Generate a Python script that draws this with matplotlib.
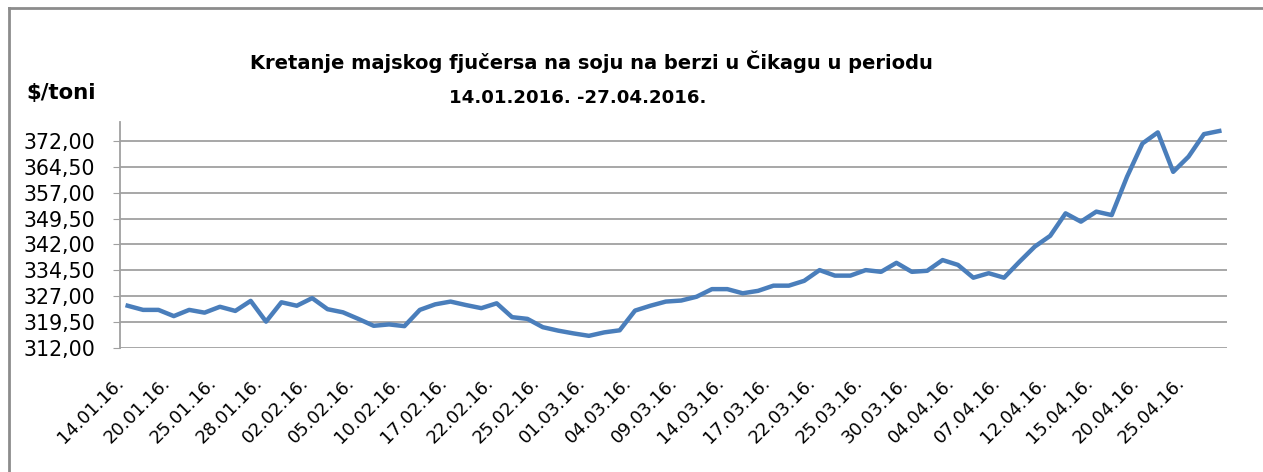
import matplotlib
matplotlib.use("Agg")
import matplotlib.pyplot as plt
from matplotlib.lines import Line2D
from matplotlib.transforms import ScaledTranslation

# trading days, 14.01.2016 - 27.04.2016
dates = [
    "14.01.16.", "15.01.16.", "19.01.16.", "20.01.16.", "21.01.16.", "22.01.16.",
    "25.01.16.", "26.01.16.", "27.01.16.", "28.01.16.", "29.01.16.", "01.02.16.",
    "02.02.16.", "03.02.16.", "04.02.16.", "05.02.16.", "08.02.16.", "09.02.16.",
    "10.02.16.", "11.02.16.", "12.02.16.", "17.02.16.", "18.02.16.", "19.02.16.",
    "22.02.16.", "23.02.16.", "24.02.16.", "25.02.16.", "26.02.16.", "29.02.16.",
    "01.03.16.", "02.03.16.", "03.03.16.", "04.03.16.", "07.03.16.", "08.03.16.",
    "09.03.16.", "10.03.16.", "11.03.16.", "14.03.16.", "15.03.16.", "16.03.16.",
    "17.03.16.", "18.03.16.", "21.03.16.", "22.03.16.", "23.03.16.", "24.03.16.",
    "25.03.16.", "28.03.16.", "29.03.16.", "30.03.16.", "31.03.16.", "01.04.16.",
    "04.04.16.", "05.04.16.", "06.04.16.", "07.04.16.", "08.04.16.", "11.04.16.",
    "12.04.16.", "13.04.16.", "14.04.16.", "15.04.16.", "18.04.16.", "19.04.16.",
    "20.04.16.", "21.04.16.", "22.04.16.", "25.04.16.", "26.04.16.", "27.04.16.",
]

# price $/ton
prices = [
    324.3, 323.1, 323.1, 321.3, 323.1, 322.3, 324.0, 322.8, 325.7, 319.7,
    325.3, 324.3, 326.5, 323.3, 322.4, 320.5, 318.5, 318.9, 318.4, 323.1,
    324.7, 325.5, 324.5, 323.6, 325.0, 321.0, 320.5, 318.1, 317.1, 316.3,
    315.6, 316.6, 317.2, 322.9, 324.3, 325.5, 325.8, 326.9, 329.1, 329.1,
    327.9, 328.6, 330.1, 330.1, 331.5, 334.6, 333.0, 333.0, 334.6, 334.1,
    336.7, 334.1, 334.4, 337.5, 336.1, 332.4, 333.7, 332.4, 337.0, 341.4,
    344.5, 351.0, 348.6, 351.5, 350.5, 361.6, 371.2, 374.4, 363.0, 367.4,
    373.9, 374.8,
]

y_ticks = [312.0, 319.5, 327.0, 334.5, 342.0, 349.5, 357.0, 364.5, 372.0]

plt.rcParams['font.family'] = ['DejaVu Sans']

fig = plt.figure(figsize=(12.63, 4.72), dpi=100)
ax = fig.add_axes([0.0950, 0.2621, 0.8765, 0.4794])

x = list(range(len(prices)))
ax.plot(x, prices, color='#4a7ebb', lw=3.2, solid_joinstyle='round', zorder=3)

ax.set_xlim(-0.5, len(prices) - 0.5)
ax.set_ylim(312, 377.4)
ax.set_yticks(y_ticks)
ax.set_yticklabels([f"{v:.2f}".replace('.', ',') for v in y_ticks], fontsize=14.8)
ax.set_xticks(x[::3])
ax.set_xticklabels(dates[::3], rotation=45, ha='right', fontsize=13)
shift = ScaledTranslation(4 / 100, 0, fig.dpi_scale_trans)
for lbl in ax.get_xticklabels():
    lbl.set_transform(lbl.get_transform() + shift)

ax.grid(axis='y', color='#a0a0a0', lw=1.3)
ax.set_axisbelow(True)
for s in ['top', 'right', 'bottom']:
    ax.spines[s].set_visible(False)
ax.spines['left'].set_color('#a0a0a0')
ax.spines['left'].set_linewidth(1.3)
ax.tick_params(axis='y', length=5, color='#a0a0a0', pad=13)
ax.tick_params(axis='x', length=0, pad=18)

# titles
fig.text(0.468, 0.8686, "Kretanje majskog fjučersa na soju na berzi u Čikagu u periodu",
         ha='center', va='center', fontsize=14, fontweight='bold')
fig.text(0.4577, 0.7925, "14.01.2016. -27.04.2016.",
         ha='center', va='center', fontsize=13.1, fontweight='bold')
fig.text(0.0206, 0.803, "$/toni", ha='left', va='center', fontsize=15.3, fontweight='bold')

# frame around the chart
fig.add_artist(Line2D([9 / 1263, 1.0], [1 - 8 / 472, 1 - 8 / 472], color='#8c8c8c', lw=2))
fig.add_artist(Line2D([9 / 1263, 9 / 1263], [0.0, 1 - 8 / 472], color='#8c8c8c', lw=2))

fig.savefig("out.png", dpi=100)
